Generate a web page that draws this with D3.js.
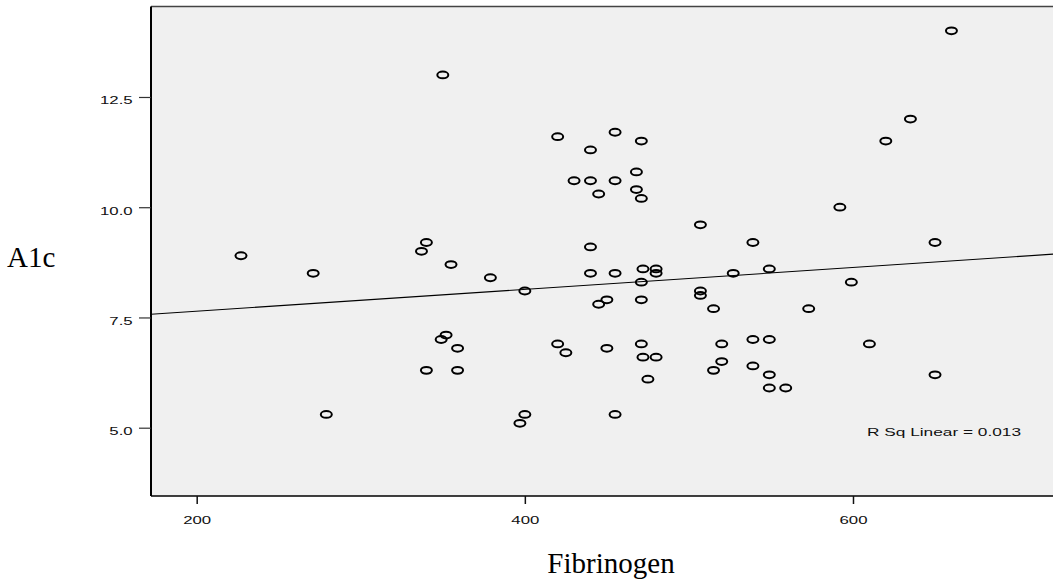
<!DOCTYPE html>
<meta charset="utf-8">
<script src="https://d3js.org/d3.v7.min.js"></script>
<body style="margin:0;background:#fff">
<svg id="chart" width="1053" height="579"></svg>

<script>
    // values
    const fibrinogen = [660, 635, 620, 350, 420, 455, 471, 440, 468, 430,
                        440, 455, 445, 468, 471, 507, 592, 340, 337, 440,
                        539, 650, 227, 271, 355, 379, 400, 440, 455, 472,
                        480, 480, 471, 527, 549, 599, 450, 445, 471, 507,
                        507, 515, 573, 352, 349, 359, 340, 359, 420, 425,
                        450, 471, 472, 480, 475, 520, 520, 515, 539, 549,
                        539, 549, 549, 559, 400, 397, 455, 279, 610, 650];
    const a1c = [14.0, 12.0, 11.5, 13.0, 11.6, 11.7, 11.5, 11.3, 10.8, 10.6,
                 10.6, 10.6, 10.3, 10.4, 10.2, 9.6, 10.0, 9.2, 9.0, 9.1,
                 9.2, 9.2, 8.9, 8.5, 8.7, 8.4, 8.1, 8.5, 8.5, 8.6,
                 8.6, 8.5, 8.3, 8.5, 8.6, 8.3, 7.9, 7.8, 7.9, 8.1,
                 8.0, 7.7, 7.7, 7.1, 7.0, 6.8, 6.3, 6.3, 6.9, 6.7,
                 6.8, 6.9, 6.6, 6.6, 6.1, 6.9, 6.5, 6.3, 7.0, 7.0,
                 6.4, 6.2, 5.9, 5.9, 5.3, 5.1, 5.3, 5.3, 6.9, 6.2];
    const xTicks = [200, 400, 600];
    const yTicks = [5.0, 7.5, 10.0, 12.5];
    const fitIntercept = 7.145;
    const fitSlope = 0.00248;
    const rSqLabel = "R Sq Linear = 0.013";

    const svg = d3.select("#chart");
    const plotL = 151, plotR = 1060, plotT = 6.5, plotB = 496;
    const stretch = 1.6;   // tick text is drawn wide in the original

    const x = d3.scaleLinear().domain([172.15, 721.9]).range([plotL, 1053]);
    const y = d3.scaleLinear().domain([3.451, 14.552]).range([plotB, plotT]);

    // plot background + top border
    svg.append("rect")
        .attr("x", plotL).attr("y", plotT)
        .attr("width", plotR - plotL).attr("height", plotB - plotT)
        .attr("fill", "#f0f0f0");
    svg.append("line")
        .attr("x1", plotL).attr("x2", plotR)
        .attr("y1", plotT).attr("y2", plotT)
        .attr("stroke", "#444").attr("stroke-width", 1.5);

    // x axis
    const gx = svg.append("g")
        .attr("transform", `translate(0,${plotB})`)
        .call(d3.axisBottom(x).tickValues(xTicks).tickSize(8).tickSizeOuter(0));
    gx.select(".domain").attr("stroke", "#000").attr("stroke-width", 1.6)
        .attr("d", `M${plotL},0H${plotR}`);
    gx.selectAll(".tick line").attr("stroke", "#111").attr("stroke-width", 1.5);
    gx.selectAll(".tick text")
        .attr("y", 28).attr("dy", null)
        .attr("font-family", "Liberation Sans, Arial, sans-serif")
        .attr("font-size", 10.5).attr("fill", "#111")
        .attr("transform", `scale(${stretch},1)`);

    // y axis
    const gy = svg.append("g")
        .attr("transform", `translate(${plotL},0)`)
        .call(d3.axisLeft(y).tickValues(yTicks).tickFormat(d3.format(".1f")).tickSize(12).tickSizeOuter(0));
    gy.select(".domain").attr("stroke", "#000").attr("stroke-width", 2)
        .attr("d", `M0,${plotT}V${plotB}`);
    gy.selectAll(".tick line").attr("stroke", "#333").attr("stroke-width", 1.2);
    gy.selectAll(".tick text")
        .attr("x", -18.3 / stretch).attr("y", 7).attr("dy", null)
        .attr("font-family", "Liberation Sans, Arial, sans-serif")
        .attr("font-size", 10.5).attr("fill", "#111")
        .attr("transform", `scale(${stretch},1)`);

    // fit line
    const xd = x.domain();
    svg.append("line")
        .attr("x1", x(xd[0])).attr("y1", y(fitIntercept + fitSlope * xd[0]))
        .attr("x2", x(xd[1])).attr("y2", y(fitIntercept + fitSlope * xd[1]))
        .attr("stroke", "#000").attr("stroke-width", 1.1);

    // points
    svg.append("g")
        .selectAll("ellipse")
        .data(fibrinogen.map((f, i) => [f, a1c[i]]))
        .join("ellipse")
            .attr("cx", d => x(d[0]))
            .attr("cy", d => y(d[1]))
            .attr("rx", 5.5).attr("ry", 3.4)
            .attr("fill", "none")
            .attr("stroke", "#000")
            .attr("stroke-width", 2);

    // R squared note
    svg.append("text")
        .attr("transform", `translate(867,435.5) scale(${stretch},1)`)
        .attr("font-family", "Liberation Sans, Arial, sans-serif")
        .attr("font-size", 10.8).attr("fill", "#111")
        .text(rSqLabel);

    // axis titles
    svg.append("text")
        .attr("x", 7).attr("y", 266.5)
        .attr("font-family", "Liberation Serif, Times New Roman, serif")
        .attr("font-size", 29).attr("fill", "#000")
        .text("A1c");
    svg.append("text")
        .attr("x", 611).attr("y", 572.5)
        .attr("text-anchor", "middle")
        .attr("font-family", "Liberation Serif, Times New Roman, serif")
        .attr("font-size", 29).attr("fill", "#000")
        .text("Fibrinogen");
</script>
</body>
